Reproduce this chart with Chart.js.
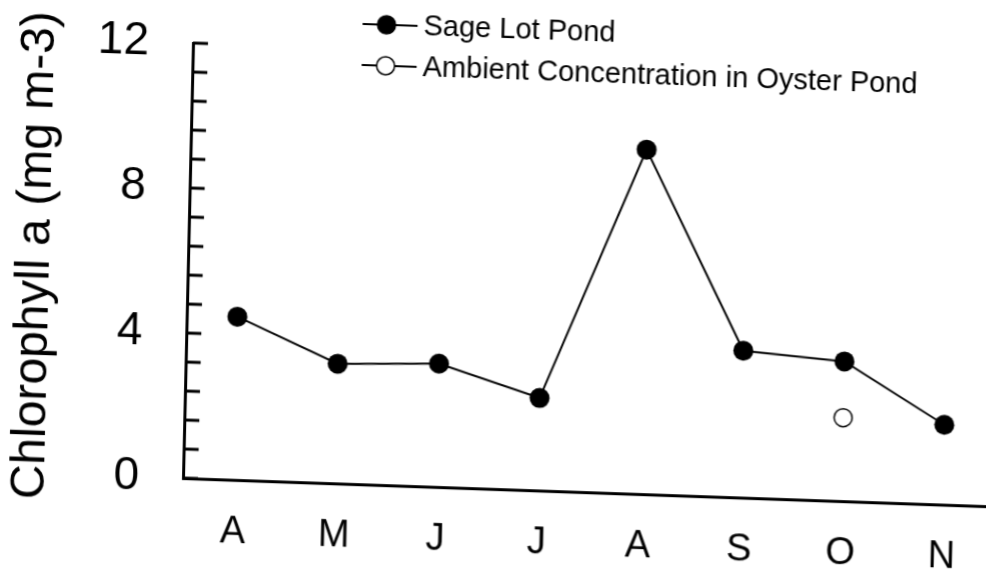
<!DOCTYPE html>
<html>
<head>
<meta charset="utf-8">
<script src="https://cdn.jsdelivr.net/npm/chart.js@4.4.1/dist/chart.umd.min.js"></script>
<style>
  html, body { margin: 0; padding: 0; background: #fff; overflow: hidden; }
  /* the scanned figure is slightly skewed, reproduce that */
  #chl { display: block; transform-origin: 183px 478px; transform: matrix(1, 0.035, -0.023, 1, 0, 0); }
</style>
</head>
<body>
<canvas id="chl" width="986" height="577"></canvas>
<script>
const months = ['A', 'M', 'J', 'J', 'A', 'S', 'O', 'N'];
const sageLotPond = [4.5, 3.3, 3.4, 2.55, 9.5, 4.05, 3.85, 2.2];
const oysterMonthIndex = 6; // October
const oysterAmbient = [2.3];
const yLabelValues = [0, 4, 8, 12];

const FONT = '"Liberation Sans", Arial, Helvetica, sans-serif';

// small tick marks pointing into the plot, like the original
const inwardTicks = {
    id: 'inwardTicks',
    afterDraw(chart) {
        const { ctx, chartArea, scales } = chart;
        ctx.save();
        ctx.strokeStyle = '#000';
        ctx.lineWidth = 3;
        scales.y.ticks.forEach(t => {
            const y = scales.y.getPixelForValue(t.value);
            ctx.beginPath();
            ctx.moveTo(chartArea.left, y);
            ctx.lineTo(chartArea.left + 15, y);
            ctx.stroke();
        });
        ctx.restore();
    }
};

// legend stacked in two rows at the top
const stackedLegend = {
    id: 'stackedLegend',
    afterDraw(chart) {
        const ctx = chart.ctx;
        const rows = [18, 59];
        ctx.save();
        chart.data.datasets.forEach((ds, i) => {
            const y = rows[i];
            ctx.strokeStyle = '#000';
            ctx.lineWidth = 2;
            ctx.beginPath();
            ctx.moveTo(352, y);
            ctx.lineTo(407, y);
            ctx.stroke();
            ctx.beginPath();
            ctx.arc(376, y, 9, 0, Math.PI * 2);
            ctx.fillStyle = ds.pointBackgroundColor;
            ctx.fill();
            ctx.lineWidth = 1.5;
            ctx.stroke();
            ctx.fillStyle = '#000';
            ctx.font = '29px ' + FONT;
            ctx.textAlign = 'left';
            ctx.textBaseline = 'middle';
            ctx.fillText(ds.label, 413, y + 1);
        });
        ctx.restore();
    }
};

new Chart(document.getElementById('chl'), {
    type: 'scatter',
    data: {
        datasets: [{
            label: 'Sage Lot Pond',
            data: sageLotPond.map((v, i) => ({ x: i, y: v })),
            showLine: true,
            borderColor: '#000',
            borderWidth: 2,
            pointRadius: 10,
            pointBackgroundColor: '#000',
            pointBorderColor: '#000',
            pointBorderWidth: 0
        }, {
            label: 'Ambient Concentration in Oyster Pond',
            data: oysterAmbient.map(v => ({ x: oysterMonthIndex, y: v })),
            showLine: false,
            pointRadius: 9,
            pointBackgroundColor: '#fff',
            pointBorderColor: '#000',
            pointBorderWidth: 1.5
        }]
    },
    options: {
        responsive: false,
        animation: false,
        layout: { padding: { top: 43, left: 0, right: 0, bottom: 0 }, autoPadding: false },
        plugins: {
            legend: { display: false },
            tooltip: { enabled: false }
        },
        scales: {
            x: {
                type: 'linear',
                min: -0.5,
                max: 7.43,
                afterBuildTicks: axis => { axis.ticks = months.map((m, i) => ({ value: i })); },
                afterFit: scale => { scale.height = 99; },
                // invisible tick marks only push the labels away from the axis
                grid: { drawOnChartArea: false, drawTicks: true, tickLength: 30, tickColor: 'rgba(0,0,0,0)' },
                border: { display: true, color: '#000', width: 3 },
                ticks: {
                    autoSkip: false,
                    maxRotation: 0,
                    padding: 0,
                    color: '#000',
                    font: { family: FONT, size: 38 },
                    callback: v => months[v]
                }
            },
            y: {
                min: 0,
                max: 12,
                afterFit: scale => { scale.width = 183; },
                grid: { drawOnChartArea: false, drawTicks: true, tickLength: 44, tickColor: 'rgba(0,0,0,0)' },
                border: { display: true, color: '#000', width: 3 },
                ticks: {
                    stepSize: 0.8,
                    autoSkip: false,
                    padding: 0,
                    color: '#000',
                    font: { family: FONT, size: 46 },
                    callback: v => {
                        const r = Math.round(v);
                        return (Math.abs(v - r) < 1e-6 && yLabelValues.includes(r)) ? String(r) : '';
                    }
                },
                title: {
                    display: true,
                    text: 'Chlorophyll a (mg m-3)',
                    color: '#000',
                    font: { family: FONT, size: 48 },
                    padding: { top: 2, bottom: 0 }
                }
            }
        }
    },
    plugins: [inwardTicks, stackedLegend]
});
</script>
</body>
</html>
